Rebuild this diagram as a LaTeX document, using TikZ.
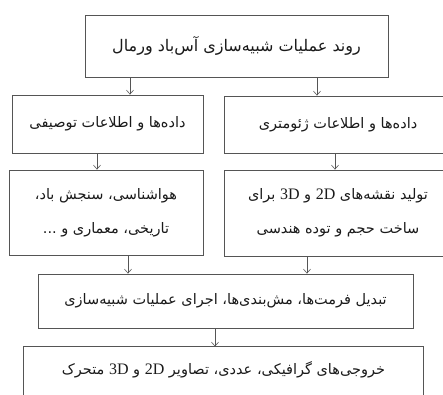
\documentclass[tikz,border=0pt]{standalone}
\usepackage{fontspec}
\newfontfamily\arabicfont[Script=Arabic]{DejaVu Sans}
\newfontfamily\latinfont{Liberation Serif}
\TeXXeTstate=1
\usetikzlibrary{arrows.meta}
\newcommand{\LRtxt}[1]{\beginL{\latinfont\fontsize{16}{16}\selectfont #1}\endL{}}
\definecolor{linegray}{HTML}{555555}
\definecolor{textgray}{HTML}{1A1A1A}
\begin{document}
\begin{tikzpicture}[x=1pt,y=-1pt,
  boxline/.style={draw=linegray, line width=0.8pt},
  box/.style={boxline, rectangle, inner sep=0pt,
    text=textgray, font={\arabicfont\fontsize{14.5}{34}\selectfont}, align=center},
  arr/.style={draw=linegray, line width=0.6pt, -{Straight Barb[length=4pt,width=7pt]}}]
\clip (0,0) rectangle (443,394);
\node[box, minimum width=303pt, minimum height=62pt,
  font={\arabicfont\fontsize{16}{34}\selectfont}] (top) at (236.5,46)
  {\beginR روند عملیات شبیه‌سازی آس‌باد ورمال\endR};
\node[box, minimum width=191pt, minimum height=58pt] (L2) at (107.5,124)
  {\beginR داده‌ها و اطلاعات توصیفی\endR};
\node[box, minimum width=228pt, minimum height=57pt] (R2) at (338,124.5)
  {\beginR داده‌ها و اطلاعات ژئومتری\endR};
\node[box, minimum width=194pt, minimum height=85pt] (L3) at (106,212.5)
  {\beginR هواشناسی، سنجش باد،\endR\\ \beginR تاریخی، معماری و ...\endR};
\node[box, minimum width=228pt, minimum height=86pt] (R3) at (338,213)
  {\beginR تولید نقشه‌های \LRtxt{2D} و \LRtxt{3D} برای\endR\\ \beginR ساخت حجم و توده هندسی\endR};
\node[box, minimum width=375pt, minimum height=54pt] (M4) at (225.5,301)
  {\beginR تبدیل فرمت‌ها، مش‌بندی‌ها، اجرای عملیات شبیه‌سازی\endR};
\node[box, draw=none, minimum width=399pt, minimum height=46pt] (B5) at (223.5,370)
  {\beginR خروجی‌های گرافیکی، عددی، تصاویر \LRtxt{2D} و \LRtxt{3D} متحرک\endR};
\draw[boxline] ([shift={(0,20)}]B5.south west) |- (B5.north east) -- ++(0,66);
\draw[arr] (top.south -| 130,0) -- (L2.north -| 130,0);
\draw[arr] (top.south -| 317,0) -- (R2.north -| 317,0);
\draw[arr] (L2.south -| 97,0) -- (L3.north -| 97,0);
\draw[arr] (R2.south -| 335,0) -- (R3.north -| 335,0);
\draw[arr] (L3.south -| 128,0) -- (M4.north -| 128,0);
\draw[arr] (R3.south -| 307,0) -- (M4.north -| 307,0);
\draw[arr] (M4.south -| 215,0) -- (B5.north -| 215,0);
\end{tikzpicture}
\end{document}
